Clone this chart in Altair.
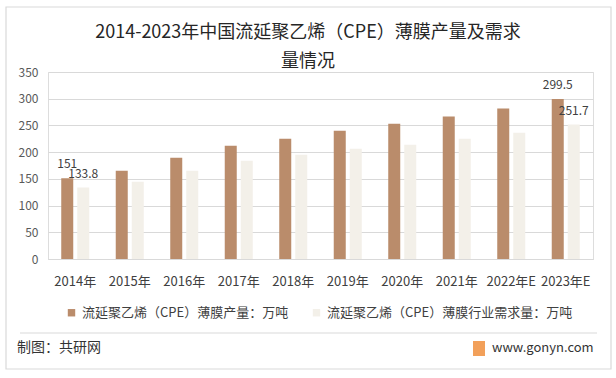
import altair as alt
import pandas as pd

years = ["2014年", "2015年", "2016年", "2017年", "2018年", "2019年", "2020年", "2021年", "2022年E", "2023年E"]
production = [151, 165.4, 189.7, 212, 225, 240, 253, 266.5, 281.5, 299.5]
demand = [133.8, 144.8, 165.4, 184, 195, 206.5, 214, 225, 236.5, 251.7]
labels_prod = ["151", "", "", "", "", "", "", "", "", "299.5"]
labels_dem = ["133.8", "", "", "", "", "", "", "", "", "251.7"]
title_lines = ["2014-2023年中国流延聚乙烯（CPE）薄膜产量及需求", "量情况"]

s1 = "流延聚乙烯（CPE）薄膜产量：万吨"
s2 = "流延聚乙烯（CPE）薄膜行业需求量：万吨"
FONT = "Noto Sans CJK SC"

rows = []
for i, y in enumerate(years):
    rows.append({"year": y, "series": s1, "value": production[i], "label": labels_prod[i]})
    rows.append({"year": y, "series": s2, "value": demand[i], "label": labels_dem[i]})
df = pd.DataFrame(rows)

xenc = alt.X("year:N", sort=years, title=None,
             scale=alt.Scale(paddingInner=0.486, paddingOuter=0.243),
             axis=alt.Axis(labelAngle=0, labelFontSize=13, labelColor="#404040", labelFont=FONT,
                           domainColor="#D9D9D9", ticks=False, labelPadding=16, labelOverlap=False))
xoff = alt.XOffset("series:N", sort=[s1, s2], scale=alt.Scale(paddingInner=0.25))
yenc = alt.Y("value:Q", title=None,
             scale=alt.Scale(domain=[0, 350], nice=False),
             axis=alt.Axis(values=[0, 50, 100, 150, 200, 250, 300, 350], labelFontSize=12,
                           labelColor="#595959", labelFont=FONT, domain=False, ticks=False,
                           labelPadding=10, gridColor="#D9D9D9", grid=True,
                           labelOverlap=False, labelFlush=False))

color = alt.Color("series:N", sort=[s1, s2],
                  scale=alt.Scale(domain=[s1, s2], range=["#BA8C6B", "#F3F0E9"]),
                  legend=alt.Legend(title=None, orient="none", direction="horizontal",
                                    legendX=17, legendY=234, padding=0, symbolType="square",
                                    symbolSize=55, symbolStrokeWidth=0, labelFontSize=13,
                                    labelFont=FONT, labelColor="#404040", labelLimit=400,
                                    columnPadding=21, symbolOffset=0, labelOffset=4))

bars = alt.Chart(df).mark_bar().encode(x=xenc, xOffset=xoff, y=yenc, color=color)

text = alt.Chart(df).transform_filter("datum.label != ''").mark_text(
    fontSize=12, font=FONT, color="#404040", baseline="middle", dy=-14
).encode(x=xenc, xOffset=xoff, y=yenc, text="label:N")

one = pd.DataFrame({"a": [0]})
border = alt.Chart(one).mark_rect(fill=None, stroke="#D9D9D9", strokeWidth=1.2).encode(
    x=alt.value(-42), x2=alt.value(563), y=alt.value(-65), y2=alt.value(297))
sep = alt.Chart(one).mark_rule(color="#D9D9D9").encode(
    x=alt.value(-28), x2=alt.value(549), y=alt.value(261))
t1 = alt.Chart(one).mark_text(align="center", baseline="middle", fontSize=18, font=FONT,
                              color="#262626").encode(
    x=alt.value(260), y=alt.value(-39), text=alt.value(title_lines[0]))
t2 = alt.Chart(one).mark_text(align="center", baseline="middle", fontSize=18, font=FONT,
                              color="#262626").encode(
    x=alt.value(260), y=alt.value(-10), text=alt.value(title_lines[1]))
foot1 = alt.Chart(one).mark_text(align="left", baseline="middle", fontSize=14, font=FONT,
                                 color="#333333").encode(
    x=alt.value(-31), y=alt.value(276), text=alt.value("制图：共研网"))
foot2 = alt.Chart(one).mark_text(align="left", baseline="middle", fontSize=13, font=FONT,
                                 color="#333333").encode(
    x=alt.value(444), y=alt.value(276), text=alt.value("www.gonyn.com"))
logo = alt.Chart(one).mark_rect(color="#F2A05A").encode(
    x=alt.value(425), x2=alt.value(437), y=alt.value(269), y2=alt.value(284))

chart = alt.layer(border, sep, bars, text, t1, t2, foot1, foot2, logo).properties(
    width=545, height=187,
    autosize=alt.AutoSizeParams(type="none"),
    padding={"left": 48, "top": 72, "right": 23, "bottom": 119},
).configure_view(stroke=None).configure(background="white")

chart.save("out.html", embed_options={"renderer": "svg", "actions": False})
